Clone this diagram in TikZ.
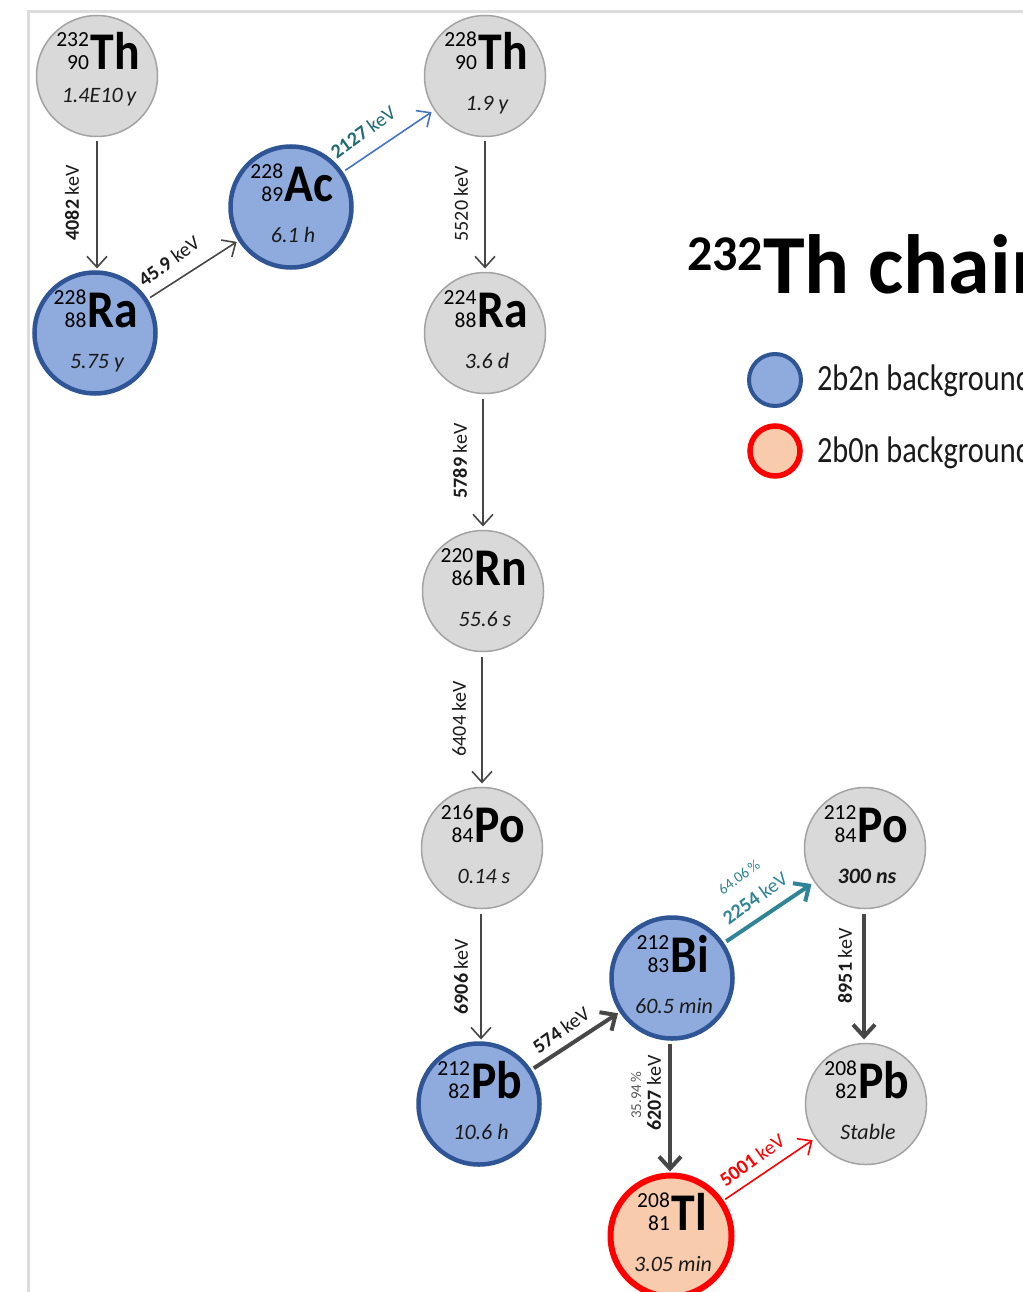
\documentclass[tikz,border=0pt]{standalone}
\usepackage{fontspec}
\setmainfont{Carlito}
\newfontfamily\symfam{Carlito}[FakeStretch=0.9]
\newfontfamily\legfam{Carlito}[FakeStretch=0.82]
\usetikzlibrary{arrows.meta,calc}
\definecolor{grayfill}{HTML}{D9D9D9}
\definecolor{grayline}{HTML}{A3A3A3}
\definecolor{bluefill}{HTML}{8FAADC}
\definecolor{blueline}{HTML}{2F5597}
\definecolor{salmon}{HTML}{F8CBAD}
\definecolor{redline}{HTML}{FF0000}
\definecolor{arrowgray}{HTML}{474747}
\definecolor{arrowblue}{HTML}{4472C4}
\definecolor{tealdark}{HTML}{1F6B70}
\definecolor{teal2}{HTML}{2F8597}
\definecolor{framegray}{HTML}{DCDCDC}
\definecolor{txtdark}{HTML}{1A1A1A}
\definecolor{pctgray}{HTML}{595959}
\newcommand\numf{\fontsize{21.5}{23}\selectfont}
\newcommand\symf{\symfam\bfseries\fontsize{53}{53}\selectfont}
\newcommand\hlf{\itshape\fontsize{22}{22}\selectfont}
\newcommand\labf{\fontsize{20}{20}\selectfont}
\newcommand\pctf{\fontsize{15}{15}\selectfont}
\newcommand\legf{\legfam\fontsize{37}{37}\selectfont}
\newcommand\titf{\bfseries\fontsize{84}{84}\selectfont}
\newcommand\isot[3]{{\numf\begin{tabular}[b]{@{}r@{}}#1\\#2\end{tabular}}\kern1.5pt{\symf #3}}
% name, x, y, style, A, Z, symbol, half-life, half-life offset
\newcommand\nuclide[9]{%
  \node[#4] (#1) at (#2,#3) {};
  \node[txt, anchor=base] (#1-iso) at ($(#1)+(1,-6)$) {\isot{#5}{#6}{#7}};
  \node[txt, anchor=base, text=txtdark] (#1-hl) at ($(#1)+(2,#9)$) {\hlf #8};
}
\begin{document}
\begin{tikzpicture}[x=1pt,y=-1pt,
  txt/.style={inner sep=0pt, outer sep=0pt},
  nuc/.style={circle, minimum size=121pt, inner sep=0pt, outer sep=0pt},
  grayn/.style={nuc, fill=grayfill, draw=grayline, line width=1.5pt},
  bluen/.style={nuc, fill=bluefill, draw=blueline, line width=4.5pt},
  redn/.style={nuc, fill=salmon, draw=redline, line width=6pt},
  thinarrow/.style={-{Straight Barb[length=11pt,width=20pt]}, line width=1.6pt, draw=arrowgray, shorten <=5pt, shorten >=4pt},
  thickarrow/.style={-{Straight Barb[length=12pt,width=22pt]}, line width=4pt, draw=arrowgray, shorten <=5pt, shorten >=4pt},
  lab/.style={txt, text=txtdark, font=\labf},
  pct/.style={txt, font=\pctf}
]
\useasboundingbox (0,0) rectangle (1022,1292);
\fill[white] (0,0) rectangle (1022,1292);
\draw[framegray, line width=3pt] (28,1300) -- (28,12) -- (1030,12);

\nuclide{th232}{97}{76}{grayn}{232}{90}{Th}{1.4E10\,y}{27}
\nuclide{ra228}{95}{333}{bluen}{228}{88}{Ra}{5.75 y}{35}
\nuclide{ac228}{291}{207}{bluen}{228}{89}{Ac}{6.1 h}{35}
\nuclide{th228}{485}{76}{grayn}{228}{90}{Th}{1.9 y}{35}
\nuclide{ra224}{485}{333}{grayn}{224}{88}{Ra}{3.6 d}{35}
\nuclide{rn220}{483}{591}{grayn}{220}{86}{Rn}{55.6 s}{35}
\nuclide{po216}{482}{848}{grayn}{216}{84}{Po}{0.14 s}{35}
\nuclide{pb212}{479}{1104}{bluen}{212}{82}{Pb}{10.6 h}{35}
\nuclide{bi212}{672}{978}{bluen}{212}{83}{Bi}{60.5 min}{35}
\nuclide{po212}{865}{848}{grayn}{212}{84}{Po}{\bfseries 300 ns}{35}
\nuclide{pb208}{866}{1104}{grayn}{208}{82}{Pb}{Stable}{35}
\nuclide{tl208}{671}{1236}{redn}{208}{81}{Tl}{3.05 min}{35}

% connectors
\draw[thinarrow] (th232.south) -- (th232.south |- ra228.north);
\draw[thinarrow] (ra228) -- (ac228);
\draw[thinarrow, draw=arrowblue] (ac228) -- (th228);
\draw[thinarrow] (th228.south) -- (th228.south |- ra224.north);
\draw[thinarrow] ($(ra224.south)+(-2,0)$) -- ($(ra224.south |- rn220.north)+(-2,0)$);
\draw[thinarrow] ($(rn220.south)+(-1,0)$) -- ($(rn220.south |- po216.north)+(-1,0)$);
\draw[thinarrow] ($(po216.south)+(-1,0)$) -- ($(po216.south |- pb212.north)+(-1,0)$);
\draw[thickarrow] (pb212) -- (bi212);
\draw[thickarrow, draw=teal2] (bi212) -- (po212);
\draw[thickarrow] ($(bi212.south)+(-2,0)$) -- ($(bi212.south |- tl208.north)+(-2,0)$);
\draw[thickarrow] ($(po212.south)+(-1,0)$) -- ($(po212.south |- pb208.north)+(-1,0)$);
\draw[thinarrow, draw=redline] (tl208) -- (pb208);

% labels
\node[lab, rotate=90] (l4082) at (72,203) {\textbf{4082} keV};
\node[lab, rotate=36] (l459) at (169,261) {\textbf{45.9} keV};
\node[lab, rotate=36, text=tealdark] (l2127) at (363,132) {\textbf{2127} keV};
\node[lab, rotate=90] (l5520) at (461,204) {5520 keV};
\node[lab, rotate=90] (l5789) at (460,461) {\textbf{5789} keV};
\node[lab, rotate=90] (l6404) at (459,719) {6404 keV};
\node[lab, rotate=90] (l6906) at (461,977) {\textbf{6906} keV};
\node[lab, rotate=36] (l574) at (561,1030) {\textbf{574} keV};
\node[lab, rotate=36, text=teal2] (l2254) at (755,898) {\textbf{2254} keV};
\node[pct, rotate=36, text=teal2] (l6406) at (739,877) {64.06\,\%};
\node[lab, rotate=90] (l6207) at (654,1093) {\textbf{6207} keV};
\node[pct, rotate=90, text=pctgray] (l3594) at (636,1095) {35.94\,\%};
\node[lab, rotate=36, text=redline] (l5001) at (752,1160) {\textbf{5001} keV};
\node[lab, rotate=90] (l8951) at (845,966) {\textbf{8951} keV};

% title
\node[txt, anchor=base west] (title) at (687,293) {\titf\raisebox{23pt}{\fontsize{50}{50}\selectfont 232}Th chain};

% legend
\node[nuc, minimum size=52pt, fill=bluefill, draw=blueline, line width=4pt] (leg1) at (775,380) {};
\node[txt, anchor=base west, text=txtdark] (leg1t) at (817,390) {\legf 2b2n background};
\node[nuc, minimum size=50pt, fill=salmon, draw=redline, line width=5.5pt] (leg2) at (775,451) {};
\node[txt, anchor=base west, text=txtdark] (leg2t) at (817,462) {\legf 2b0n background};
\end{tikzpicture}
\end{document}
